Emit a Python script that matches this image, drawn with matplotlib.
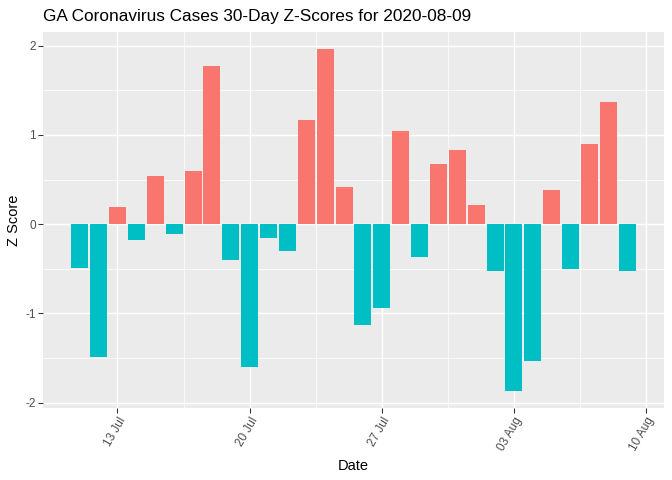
import matplotlib
matplotlib.use('Agg')
import matplotlib.pyplot as plt
import matplotlib.dates as mdates
import numpy as np
import pandas as pd

dates = pd.date_range('2020-07-11', '2020-08-09', freq='D')
z_scores = [-0.49, -1.49, 0.19, -0.176, 0.538, -0.108, 0.594, 1.776, -0.40, -1.60,
            -0.153, -0.299, 1.166, 1.963, 0.415, -1.129, -0.938, 1.043, -0.366, 0.673,
            0.83, 0.213, -0.523, -1.869, -1.533, 0.381, -0.50, 0.897, 1.368, -0.523]
x_ticks = pd.to_datetime(['2020-07-13', '2020-07-20', '2020-07-27', '2020-08-03', '2020-08-10'])
y_ticks = [-2, -1, 0, 1, 2]
title = 'GA Coronavirus Cases 30-Day Z-Scores for 2020-08-09'

POS = '#F8766D'
NEG = '#00BFC4'

plt.rcParams['font.family'] = ['Liberation Sans', 'DejaVu Sans']

def main():
    fig = plt.figure(figsize=(7, 5), dpi=96)
    ax = fig.add_axes([43 / 672, 1 - 408 / 480, (664 - 43) / 672, (408 - 32) / 480])
    ax.set_facecolor('#EBEBEB')

    x = mdates.date2num(dates)
    z = np.array(z_scores)
    colors = [POS if v > 0 else NEG for v in z]
    ax.bar(x, z, width=0.9, color=colors, zorder=3)

    # ggplot-like limits (5% expansion)
    lo, hi = x[0] - 0.45, x[-1] + 0.45
    pad = (hi - lo) * 0.05
    ax.set_xlim(lo - pad, hi + pad)
    ylo, yhi = z.min(), z.max()
    ypad = (yhi - ylo) * 0.05
    ax.set_ylim(ylo - ypad, yhi + ypad)

    xt = mdates.date2num(x_ticks)
    ax.set_xticks(xt)
    ax.set_xticks((xt[:-1] + xt[1:]) / 2, minor=True)
    ax.set_xticklabels([d.strftime('%d %b') for d in x_ticks], rotation=60,
                       ha='right', va='top', rotation_mode='anchor',
                       fontsize=8.8, color='#4D4D4D')
    ax.set_yticks(y_ticks)
    ax.set_yticks([-1.5, -0.5, 0.5, 1.5], minor=True)
    ax.set_yticklabels([str(v) for v in y_ticks], fontsize=8.8, color='#4D4D4D')

    ax.grid(which='major', color='white', linewidth=1.1, zorder=0)
    ax.grid(which='minor', color='white', linewidth=0.55, zorder=0)
    ax.set_axisbelow(True)
    ax.tick_params(which='major', length=3.5, width=0.8, color='#333333', pad=2)
    ax.tick_params(which='minor', length=0)
    for s in ax.spines.values():
        s.set_visible(False)

    ax.set_xlabel('Date', fontsize=11, labelpad=4)
    ax.set_ylabel('Z Score', fontsize=11, labelpad=3)
    fig.text(43 / 672, 1 - 16 / 480, title, fontsize=12.9, ha='left', va='center')

    fig.savefig('out.png', dpi=96)

if __name__ == '__main__':
    main()
